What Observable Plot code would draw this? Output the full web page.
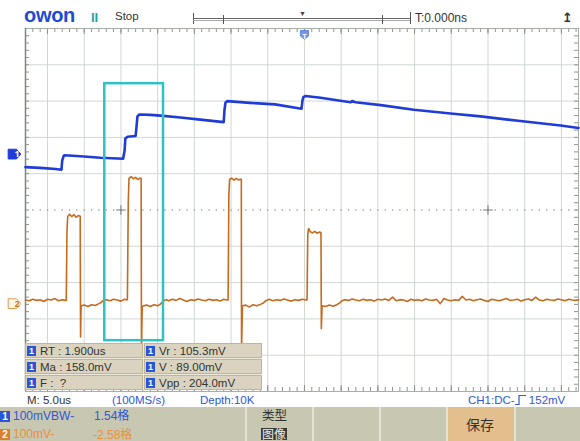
<!DOCTYPE html>
<html><head><meta charset="utf-8">
<script src="https://cdn.jsdelivr.net/npm/d3@7"></script>
<script src="https://cdn.jsdelivr.net/npm/@observablehq/plot@0.6"></script>
<style>
html,body{margin:0;padding:0;background:#fff;}
#wrap{position:relative;width:580px;height:441px;overflow:hidden;background:#fff;font-family:"Liberation Sans",Arial,sans-serif;color:#333;}
.abs{position:absolute;white-space:pre;line-height:1;}
#chart{position:absolute;left:0;top:26px;}
#meas{position:absolute;left:25px;top:343px;width:236px;height:47px;display:grid;grid-template-columns:118px 118px;grid-template-rows:15px 15px 15px;gap:1px;background:#ece8dc;}
#meas .cell{background:#d9d3bf;border:1px solid #c2b596;box-sizing:border-box;font-size:11.5px;color:#333;display:flex;align-items:center;white-space:pre;}
.ico{display:inline-block;width:9px;height:10px;line-height:10px;text-align:center;font-size:9px;font-weight:bold;color:#fff;margin:0 4px 0 1px;}
.ico1{background:#2a55d8;}
.ico2{background:#e07d28;}
#panel{position:absolute;left:0;top:407px;width:580px;height:34px;background:#c8c7b1;}
.seg{position:absolute;top:0;height:34px;border-left:2px solid #e3e2d5;box-sizing:border-box;}
.blue{color:#3157d6;}
.orng{color:#e8913b;}
.cjk{font-family:"Noto Sans CJK SC",sans-serif;line-height:1;}
</style></head><body>
<div id="wrap">
  <div id="header"></div>
  <div id="chart"></div>
  <div id="meas"></div>
  <div id="status"></div>
  <div id="panel"></div>
</div>
<script>
// ---------- data ----------
// time in microseconds, voltage in mV (relative to each channel's ground)
const ch1 = [
  [-38.0,-36],[-36.0,-38],[-33.9,-41],[-33.1,-43],[-33.0,-18],[-32.8,-5],[-32.7,-3],[-30.5,-6],[-27.8,-10],
  [-24.7,-13],[-24.5,10],[-24.4,43],[-24.1,48],[-23.0,50],[-22.9,70],[-22.75,104],[-22.5,109],[-21.0,108],
  [-19.6,106],[-16.9,101],[-14.2,95],[-11.0,88],[-10.9,120],[-10.76,142],[-10.5,146],[-7.4,141],[-4.0,137],
  [-0.4,125],[-0.27,148],[-0.14,157],[0.14,160],[2.2,155],[4.9,147],[6.3,143],[6.5,146],[6.95,143],
  [10.4,135],[14.9,122],[19.9,112],[24.0,104],[29.4,91],[34.9,79],[37.33,72]
];
const ch2 = [
  [-38,10],[-37.5,8],[-37,12],[-36.5,9],[-36,11],[-35.5,6],[-35,12],[-34.5,10],[-34,14],[-33.5,8],[-33,11],[-32.6,9],
  [-32.45,9],[-32.35,200],[-32.25,240],[-32,246],[-31.7,240],[-31.4,245],[-31.1,238],[-30.8,243],[-30.55,241],
  [-30.5,-92],[-30.42,-6],[-30,-4],[-29.5,-8],[-29,-3],[-28.5,-5],[-28,0],[-27.7,3],[-27.4,9],[-27,11],[-26.5,8],
  [-26,12],[-25.5,10],[-25,7],[-24.5,12],[-24.2,10],
  [-24.12,12],[-24.0,280],[-23.9,345],[-23.6,350],[-23.3,344],[-23.0,348],[-22.7,342],[-22.4,346],[-22.25,345],
  [-22.2,-129],[-22.1,-7],[-21.5,-4],[-21,-8],[-20.5,-3],[-20,-6],[-19.6,-1],[-19.2,8],[-18.8,11],[-18.5,8],
  [-18,12],[-17.5,9],[-17,14],[-16.5,10],[-16,6],[-15.5,11],[-15,9],[-14.5,13],[-14,10],[-13.5,8],[-13,12],
  [-12.5,9],[-12,11],[-11.5,7],[-11,12],[-10.6,10],
  [-10.4,10],[-10.3,300],[-10.2,342],[-9.9,346],[-9.6,340],[-9.3,345],[-9.0,341],[-8.7,343],[-8.6,342],
  [-8.57,-129],[-8.45,-6],[-8,-4],[-7.5,-9],[-7,-3],[-6.5,-6],[-6,-2],[-5.6,2],[-5.2,9],[-4.8,12],[-4.3,8],
  [-3.8,11],[-3.3,9],[-2.8,13],[-2.3,10],[-1.8,7],[-1.3,11],[-0.8,9],[-0.3,12],[0.2,10],
  [0.35,10],[0.45,190],[0.55,207],[0.8,198],[1.1,195],[1.4,199],[1.7,194],[2.0,197],[2.25,196],
  [2.3,-69],[2.4,-6],[2.9,-8],[3.4,-4],[3.9,-7],[4.4,-3],[4.8,2],[5.2,9],
  [5.5,11],[6,9],[6.5,13],[7,10],[7.5,8],[8,12],[8.5,9],[9,11],[9.5,7],[10,12],[10.5,10],[11,13],[11.5,9],
  [12,18],[12.5,8],[13,11],[13.5,10],[14,6],[14.5,12],[15,9],[15.5,11],[16,8],[16.5,13],[17,10],[17.5,9],
  [18,12],[18.5,0],[19,14],[19.5,10],[20,8],[20.5,11],[21,9],[21.5,20],[22,10],[22.5,12],[23,8],[23.5,11],
  [24,13],[24.5,9],[25,6],[25.5,12],[26,10],[26.5,8],[27,11],[27.5,14],[28,9],[28.5,10],[29,12],[29.5,7],
  [30,11],[30.5,13],[31,9],[31.5,18],[32,10],[32.5,8],[33,12],[33.5,10],[34,9],[34.5,13],[35,11],[35.5,8],
  [36,12],[36.5,10],[37,9],[37.33,11]
];
const channelIds = ["1", "2"];
const channelOffsets = [1.54, -2.58];      // divisions (格)
const channelScales = [100, 100];          // mV per division
const timeWindow = [-38.0, 37.33];         // µs shown
const triggerTime = [0];
const gridTimes = [-35,-30,-25,-20,-15,-10,-5,0,5,10,15,20,25,30,35];
const gridDivs = [-4,-3,-2,-1,1,2,3,4];
const crossTimes = [-25, 25];
const highlightBox = [{t1: -27.2, t2: -19.2, v1: -3.6, v2: 3.48}];
const measNames = ["RT", "Vr", "Ma", "V", "F", "Vpp"];
const measValues = ["1.900us", "105.3mV", "158.0mV", "89.00mV", " ?", "204.0mV"];

// ---------- styles ----------
const colors = {"1": "#1f3cd8", "2": "#c66a1e"};
const minorTimes = d3.range(-38, 38, 1);
const minorDivs = d3.range(-25, 26).map(i => i / 5);

// ---------- header ----------
const header = document.getElementById("header");
header.innerHTML = `
  <span class="abs" style="left:24px;top:5px;font-size:20px;font-weight:bold;color:#1d4bd2;text-transform:lowercase;letter-spacing:-0.3px">OWON</span>
  <span class="abs" style="left:91px;top:11px;font-size:13px;font-weight:bold;color:#1ea6a6">II</span>
  <span class="abs" style="left:115px;top:11px;font-size:11.5px;color:#333">Stop</span>
  <div style="position:absolute;left:193px;top:13px;width:1px;height:11px;background:#555"></div>
  <div style="position:absolute;left:193px;top:18px;width:217px;height:1px;background:#666"></div>
  <div style="position:absolute;left:193px;top:20px;width:217px;height:1px;background:#aaa"></div>
  <div style="position:absolute;left:223px;top:15px;width:1px;height:9px;background:#555"></div>
  <div style="position:absolute;left:382px;top:15px;width:1px;height:9px;background:#555"></div>
  <div style="position:absolute;left:410px;top:12px;width:1px;height:12px;background:#555"></div>
  <span class="abs" style="left:299px;top:10px;font-size:7px;color:#444">▼</span>
  <span class="abs" style="left:415px;top:12px;font-size:12px;color:#333">T:0.000ns</span>
  <span class="abs" style="left:562px;top:11px;font-size:13px;font-weight:bold;color:#333;font-family:'DejaVu Sans'">↥</span>`;

// ---------- chart ----------
const tagSymbol = {
  draw(ctx, size) {
    const s = Math.sqrt(size) / 2;
    ctx.moveTo(-s * 1.3, -s); ctx.lineTo(s * 0.4, -s); ctx.lineTo(s * 1.3, 0);
    ctx.lineTo(s * 0.4, s); ctx.lineTo(-s * 1.3, s); ctx.closePath();
  }
};
const shieldSymbol = {
  draw(ctx, size) {
    const s = Math.sqrt(size) / 2;
    ctx.moveTo(-s, -s); ctx.lineTo(s, -s); ctx.lineTo(s, s * 0.4);
    ctx.lineTo(0, s * 1.2); ctx.lineTo(-s, s * 0.4); ctx.closePath();
  }
};
const toDiv = (k) => d => channelOffsets[k] + d[1] / channelScales[k];
const edge = "#8e958e";
const chart = Plot.plot({
  width: 580, height: 368,
  marginTop: 2, marginBottom: 3, marginLeft: 25, marginRight: 2,
  style: {background: "transparent", overflow: "visible"},
  x: {domain: timeWindow, axis: null},
  y: {domain: [-5, 5], axis: null},
  marks: [
    Plot.ruleX(gridTimes, {stroke: "#d2d7d2", strokeWidth: 1}),
    Plot.ruleY(gridDivs, {stroke: "#d2d7d2", strokeWidth: 1}),
    Plot.dot(minorTimes, {x: d => d, y: () => 0, r: 0.8, fill: "#8f968f", stroke: null}),
    Plot.dot(crossTimes, {x: d => d, y: () => 0, symbol: "plus", r: 3.2, stroke: "#777", strokeWidth: 1}),
    Plot.tickX(minorTimes, {x: d => d, insetBottom: 359, stroke: edge}),
    Plot.tickX(gridTimes, {x: d => d, insetBottom: 357, stroke: edge}),
    Plot.tickX(minorTimes, {x: d => d, insetTop: 359, stroke: edge}),
    Plot.tickX(gridTimes, {x: d => d, insetTop: 357, stroke: edge}),
    Plot.tickY(minorDivs, {y: d => d, insetRight: 549, stroke: edge}),
    Plot.tickY(minorDivs, {y: d => d, insetLeft: 549, stroke: edge}),
    Plot.frame({stroke: "#a8aea8"}),
    Plot.ruleX([timeWindow[0]], {stroke: "#7f867f", strokeWidth: 1.5}),
    Plot.line(ch2, {x: d => d[0], y: toDiv(1), stroke: colors["2"], strokeWidth: 1.6, strokeLinejoin: "round"}),
    Plot.line(ch1, {x: d => d[0], y: toDiv(0), stroke: colors["1"], strokeWidth: 2.6, strokeLinejoin: "round"}),
    Plot.rect(highlightBox, {x1: "t1", x2: "t2", y1: "v1", y2: "v2", fill: "none", stroke: "#2fc2c2", strokeWidth: 2.5}),
    // channel ground markers
    Plot.dot(channelIds, {y: (d, i) => channelOffsets[i], frameAnchor: "left", dx: -11, symbol: tagSymbol, r: 5.5,
      fill: d => d === "1" ? colors["1"] : "#fff6ea", stroke: d => d === "1" ? colors["1"] : "#e09a55", strokeWidth: 1}),
    Plot.text(channelIds, {y: (d, i) => channelOffsets[i], frameAnchor: "left", dx: -11, text: d => d,
      fill: d => d === "1" ? "#fff" : "#d07a30", fontSize: 9, fontWeight: "bold"}),
    // trigger position marker
    Plot.dot(triggerTime, {x: d => d, frameAnchor: "top", dy: 6, symbol: shieldSymbol, r: 4.5, fill: "#7897e6", stroke: "#4f72d8", strokeWidth: 0.8}),
    Plot.text(triggerTime, {x: d => d, frameAnchor: "top", dy: 6, text: () => "T", fill: "#fff", fontSize: 7, fontWeight: "bold"})
  ]
});
document.getElementById("chart").appendChild(chart);

// ---------- measurement table ----------
document.getElementById("meas").innerHTML = measNames.map((n, i) =>
  `<div class="cell"><span class="ico ico1">1</span>${n} : ${measValues[i]}</div>`).join("");

// ---------- status line ----------
document.getElementById("status").innerHTML = `
  <span class="abs" style="left:27px;top:395px;font-size:11.5px;color:#333">M: 5.0us</span>
  <span class="abs blue" style="left:112px;top:395px;font-size:11.5px">(100MS/s)</span>
  <span class="abs blue" style="left:200px;top:395px;font-size:11.5px">Depth:10K</span>
  <span class="abs blue" style="left:468px;top:395px;font-size:11.5px">CH1:DC-<svg width="11" height="10" style="vertical-align:-1px"><path d="M0,9.5H4V0.5H11" fill="none" stroke="#3157d6" stroke-width="1.2"/></svg> 152mV</span>`;

// ---------- bottom panel ----------
document.getElementById("panel").innerHTML = `
  <span class="abs" style="left:0;top:3px;font-size:12px"><span class="ico ico1" style="width:10px;height:11px;line-height:11px;font-size:10px;margin:0 3px 0 0">1</span><span class="blue">100mVBW-</span></span>
  <span class="abs blue" style="left:94px;top:2px;font-size:12px">1.54<span class="cjk" style="font-size:12px">格</span></span>
  <span class="abs" style="left:0;top:21px;font-size:12px"><span class="ico ico2" style="width:10px;height:11px;line-height:11px;font-size:10px;margin:0 3px 0 0">2</span><span class="orng">100mV-</span></span>
  <span class="abs orng" style="left:93px;top:21px;font-size:12px">-2.58<span class="cjk" style="font-size:12px">格</span></span>
  <div class="seg" style="left:245px;width:67px"></div>
  <span class="abs cjk" style="left:262px;top:2px;font-size:12.5px;color:#333">类型</span>
  <span class="abs cjk" style="left:261px;top:21px;font-size:12px;color:#eee;background:#3c3c36;padding:0 1px">图像</span>
  <div class="seg" style="left:312px;width:67px"></div>
  <div class="seg" style="left:379px;width:67px"></div>
  <div class="seg" style="left:446px;width:68px;background:#e2bf8d"></div>
  <span class="abs cjk" style="left:466px;top:10px;font-size:14px;color:#333">保存</span>
  <div class="seg" style="left:514px;width:66px"></div>`;
</script>
</body></html>
